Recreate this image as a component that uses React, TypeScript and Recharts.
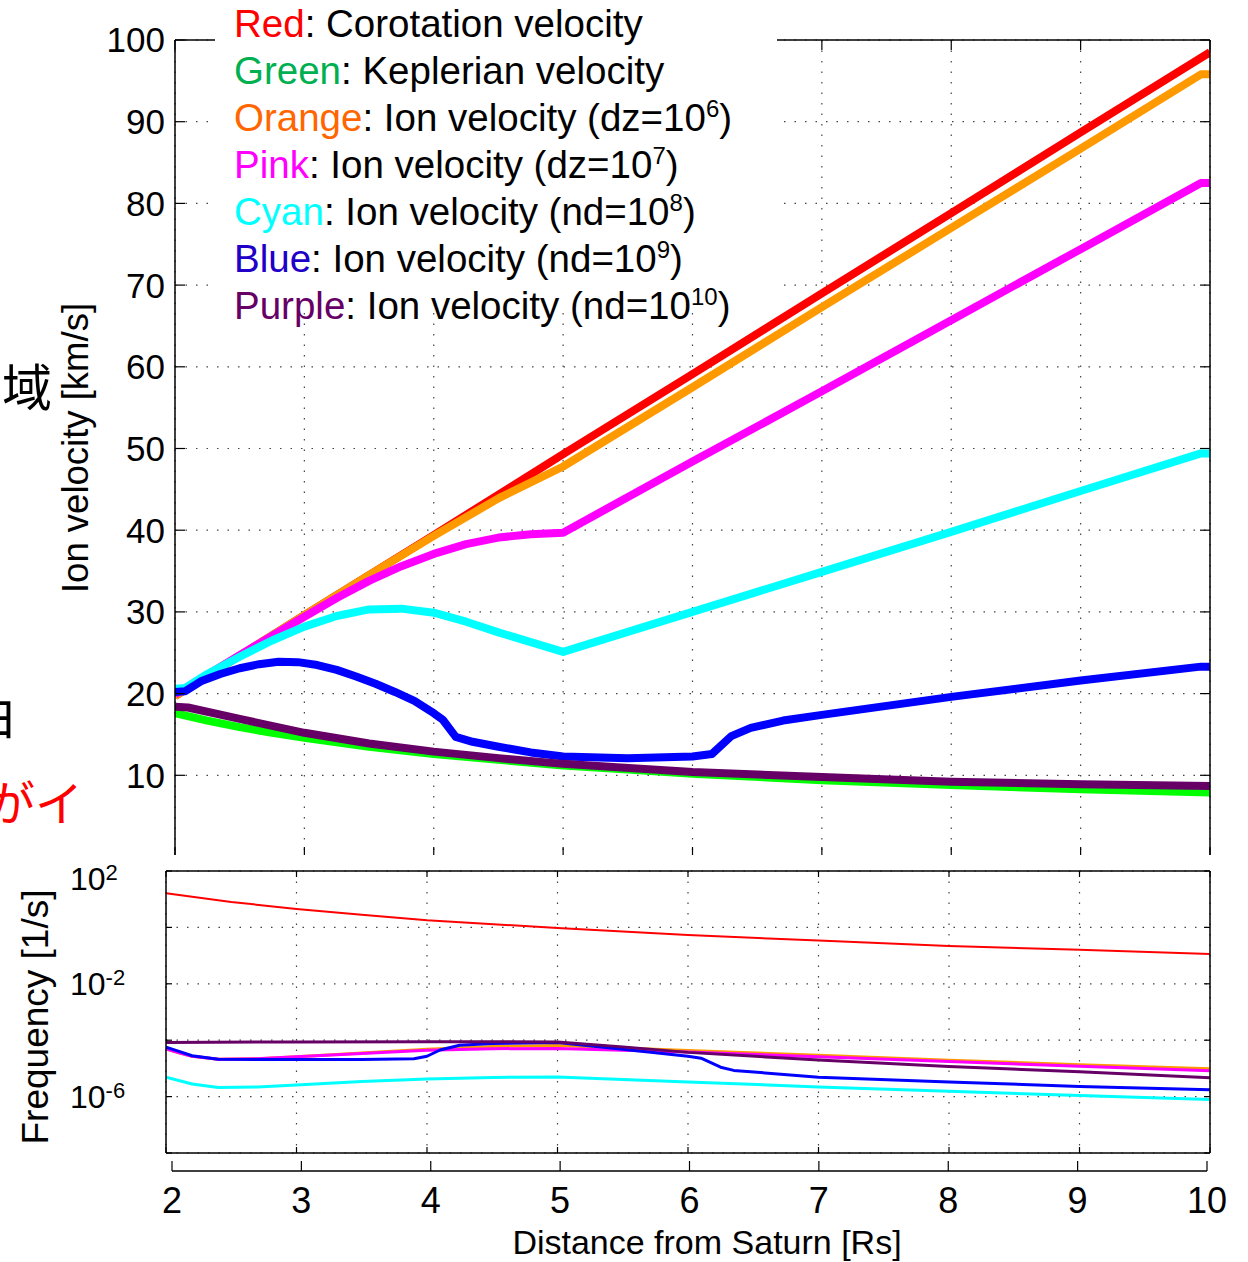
import React from 'react';
import { LineChart, Line, XAxis, YAxis, CartesianGrid } from 'recharts';

const FONT = '"Liberation Sans", Arial, Helvetica, sans-serif';
const CJK = '"Noto Sans CJK JP", "Noto Sans CJK SC", sans-serif';

// ---- axes ----
const xTicks = [2, 3, 4, 5, 6, 7, 8, 9, 10];
const velocityTicks = [10, 20, 30, 40, 50, 60, 70, 80, 90, 100];
const freqTicks = [1e2, 1, 1e-2, 1e-4, 1e-6, 1e-8];
const freqLabelTicks = [1e2, 1e-2, 1e-6];

// ---- top panel: velocities [km/s] vs distance [Rs] ----
const corotationVel = [[2, 19.7], [3, 29.6], [4, 39.4], [5, 49.3], [6, 59.1], [7, 69.0], [8, 78.8], [9, 88.7], [10, 98.5]];
const keplerianVel = [[2, 17.6], [2.25, 16.7], [2.5, 15.9], [2.75, 15.2], [3, 14.6], [3.5, 13.5], [4, 12.6], [4.5, 11.9], [5, 11.2], [5.5, 10.7], [6, 10.2], [7, 9.4], [8, 8.8], [9, 8.3], [10, 7.9]];
const ionVelDz6 = [[2, 19.7], [3, 29.6], [3.5, 34.5], [4, 39.3], [4.5, 43.9], [5, 47.8], [6, 57.5], [7, 67.3], [8, 77.0], [9, 86.7], [9.93, 95.8], [10, 95.8]];
const ionVelDz7 = [[2, 19.9], [2.5, 24.7], [3, 29.4], [3.25, 31.7], [3.5, 33.8], [3.75, 35.6], [4, 37.1], [4.25, 38.3], [4.5, 39.1], [4.75, 39.5], [5, 39.7], [6, 48.4], [7, 57.0], [8, 65.7], [9, 74.4], [9.93, 82.5], [10, 82.5]];
const ionVelNd8 = [[2, 20.6], [2.08, 20.7], [2.25, 22.4], [2.5, 24.5], [2.75, 26.5], [3, 28.2], [3.25, 29.5], [3.5, 30.3], [3.75, 30.4], [4, 29.9], [4.25, 28.8], [4.5, 27.5], [4.75, 26.3], [5, 25.1], [6, 30.0], [7, 34.9], [8, 39.8], [9, 44.8], [9.93, 49.4], [10, 49.4]];
const ionVelNd9 = [[2, 20.2], [2.08, 20.3], [2.2, 21.5], [2.35, 22.4], [2.5, 23.1], [2.65, 23.6], [2.8, 23.9], [2.95, 23.85], [3.1, 23.5], [3.25, 22.9], [3.4, 22.1], [3.55, 21.2], [3.7, 20.2], [3.85, 19.1], [4, 17.6], [4.07, 16.8], [4.17, 14.7], [4.3, 14.1], [4.5, 13.5], [4.75, 12.8], [5, 12.3], [5.5, 12.1], [6, 12.3], [6.15, 12.6], [6.3, 14.8], [6.45, 15.8], [6.7, 16.7], [7, 17.4], [8, 19.6], [9, 21.6], [9.93, 23.3], [10, 23.3]];
const ionVelNd10 = [[2, 18.4], [2.1, 18.3], [2.5, 16.9], [3, 15.2], [3.5, 13.9], [4, 12.9], [4.5, 12.1], [5, 11.4], [6, 10.4], [7, 9.8], [8, 9.2], [9, 8.9], [10, 8.7]];

// ---- bottom panel: frequencies [1/s] vs distance [Rs] ----
const corotationFreq = [[2, 16.3], [2.5, 8.0], [3, 4.5], [3.5, 2.8], [4, 1.8], [5, 0.95], [6, 0.54], [7, 0.34], [8, 0.22], [9, 0.16], [10, 0.115]];
const freqDz6 = [[2, 4.9e-5], [2.1, 3.6e-5], [2.2, 2.7e-5], [2.4, 2.1e-5], [2.7, 2.2e-5], [3, 2.6e-5], [3.5, 3.5e-5], [4, 4.8e-5], [4.5, 6.0e-5], [5, 6.5e-5], [6, 4.3e-5], [7, 2.9e-5], [8, 1.95e-5], [9, 1.35e-5], [10, 9.8e-6]];
const freqDz7 = [[2, 4.9e-5], [2.1, 3.6e-5], [2.2, 2.7e-5], [2.4, 2.1e-5], [2.7, 2.2e-5], [3, 2.6e-5], [3.5, 3.4e-5], [4, 4.4e-5], [4.5, 5.0e-5], [5, 5.1e-5], [6, 3.8e-5], [7, 2.6e-5], [8, 1.75e-5], [9, 1.2e-5], [10, 8.3e-6]];
const freqNd8 = [[2, 4.9e-6], [2.2, 2.8e-6], [2.4, 2.1e-6], [2.7, 2.2e-6], [3, 2.6e-6], [3.5, 3.4e-6], [4, 4.2e-6], [4.5, 4.8e-6], [5, 5.0e-6], [6, 3.3e-6], [7, 2.2e-6], [8, 1.55e-6], [9, 1.1e-6], [10, 7.9e-7]];
const freqNd9 = [[2, 5.6e-5], [2.1, 4.0e-5], [2.2, 2.8e-5], [2.4, 2.1e-5], [3, 2.05e-5], [3.5, 2.05e-5], [3.9, 2.2e-5], [4.0, 2.7e-5], [4.1, 4.5e-5], [4.25, 6.6e-5], [4.5, 7.6e-5], [5, 8.3e-5], [5.5, 4.8e-5], [6, 2.7e-5], [6.1, 2.3e-5], [6.25, 1.1e-5], [6.35, 8.5e-6], [7, 4.9e-6], [8, 3.3e-6], [9, 2.3e-6], [10, 1.74e-6]];
const freqNd10 = [[2, 8.3e-5], [3, 8.7e-5], [4, 8.9e-5], [5, 8.7e-5], [5.5, 5.8e-5], [6, 3.7e-5], [7, 2.0e-5], [8, 1.17e-5], [9, 7.6e-6], [10, 4.7e-6]];

// ---- legend ----
const legendEntries = [
  { name: 'Red', color: '#ff0000', text: ': Corotation velocity', exp: '', tail: '' },
  { name: 'Green', color: '#00b050', text: ': Keplerian velocity', exp: '', tail: '' },
  { name: 'Orange', color: '#ff6600', text: ': Ion velocity (dz=10', exp: '6', tail: ')' },
  { name: 'Pink', color: '#ff00ff', text: ': Ion velocity (dz=10', exp: '7', tail: ')' },
  { name: 'Cyan', color: '#00ffff', text: ': Ion velocity (nd=10', exp: '8', tail: ')' },
  { name: 'Blue', color: '#2000c8', text: ': Ion velocity (nd=10', exp: '9', tail: ')' },
  { name: 'Purple', color: '#660066', text: ': Ion velocity (nd=10', exp: '10', tail: ')' },
];

const toPts = (arr: number[][]) => arr.map(([x, v]) => ({ x, v }));

const topSeries = [
  { data: corotationVel, color: '#ff0000' },
  { data: keplerianVel, color: '#00ff00' },
  { data: ionVelDz6, color: '#ff9900' },
  { data: ionVelDz7, color: '#ff00ff' },
  { data: ionVelNd8, color: '#00ffff' },
  { data: ionVelNd9, color: '#0000ff' },
  { data: ionVelNd10, color: '#660066' },
];

const bottomSeries = [
  { data: corotationFreq, color: '#ff0000', w: 2 },
  { data: freqDz6, color: '#ff9900', w: 3 },
  { data: freqDz7, color: '#ff00ff', w: 3 },
  { data: freqNd8, color: '#00ffff', w: 3 },
  { data: freqNd9, color: '#0000ff', w: 3 },
  { data: freqNd10, color: '#660066', w: 3 },
];

const GRID = { stroke: '#444', strokeDasharray: '1.5 9', strokeWidth: 1.2 };
const AXIS_LINE = { stroke: '#000', strokeWidth: 1.5 };
const TICK_LINE = { stroke: '#000', strokeWidth: 1.2 };

const EmptyTick = () => <g />;

const FreqTick = (props: any) => {
  const { x, y, payload } = props;
  const v = payload.value;
  if (!freqLabelTicks.includes(v)) return <g />;
  const exp = Math.round(Math.log10(v));
  const shift = v === 1e2 ? 7 : 0;
  return (
    <text x={x} y={y + shift} dy="0.36em" textAnchor="start" fontSize={32} fontFamily={FONT} fill="#000">
      10
      <tspan dy={-10} fontSize={22}>{String(exp)}</tspan>
    </text>
  );
};

export default function App() {
  return (
    <div style={{ position: 'absolute', left: 0, top: 0, width: 1248, height: 1262, background: '#fff', overflow: 'hidden', fontFamily: FONT }}>
      {/* top panel */}
      <div style={{ position: 'absolute', left: 0, top: 0, zIndex: 1 }}>
        <LineChart width={1248} height={900} margin={{ top: 30, left: 115, right: 28, bottom: 33 }}>
          <CartesianGrid {...GRID} />
          <XAxis dataKey="x" type="number" domain={[2, 10]} ticks={xTicks} allowDataOverflow interval={0}
            orientation="bottom" height={10} tick={EmptyTick} tickSize={-10} axisLine={AXIS_LINE} tickLine={TICK_LINE} />
          <XAxis xAxisId="top" dataKey="x" type="number" domain={[2, 10]} ticks={xTicks} allowDataOverflow interval={0}
            orientation="top" height={10} tick={EmptyTick} tickSize={-10} axisLine={AXIS_LINE} tickLine={TICK_LINE} />
          <YAxis type="number" domain={[0, 100]} ticks={velocityTicks} allowDataOverflow interval={0} width={60}
            tickSize={-10} tickMargin={20} axisLine={AXIS_LINE} tickLine={TICK_LINE}
            tick={{ fontSize: 35, fill: '#000', fontFamily: FONT }} />
          <YAxis yAxisId="right" orientation="right" type="number" domain={[0, 100]} ticks={velocityTicks} allowDataOverflow interval={0} width={10}
            tickSize={-10} tick={EmptyTick} axisLine={AXIS_LINE} tickLine={TICK_LINE} />
          {topSeries.map((s, i) => (
            <Line key={i} data={toPts(s.data)} dataKey="v" type="linear" stroke={s.color} strokeWidth={8}
              strokeLinejoin="round" dot={false} activeDot={false} isAnimationActive={false} />
          ))}
        </LineChart>
      </div>

      {/* legend box */}
      <div style={{ position: 'absolute', left: 215, top: 0, width: 562, height: 305, background: '#fff', zIndex: 2 }} />
      <div style={{ position: 'absolute', left: 234, top: 0, zIndex: 3, fontSize: 38.5, lineHeight: '47px', color: '#000', whiteSpace: 'nowrap', fontFamily: FONT }}>
        {legendEntries.map((e) => (
          <div key={e.name}>
            <span style={{ color: e.color }}>{e.name}</span>
            {e.text}
            {e.exp ? <sup style={{ fontSize: 24, lineHeight: 0, verticalAlign: 'super' }}>{e.exp}</sup> : null}
            {e.tail}
          </div>
        ))}
      </div>

      {/* bottom panel */}
      <div style={{ position: 'absolute', left: 0, top: 855, width: 1248, height: 305, background: '#fff', zIndex: 4 }}>
        <LineChart width={1248} height={305} margin={{ top: 11, left: 106, right: 28, bottom: 2 }}>
          <CartesianGrid {...GRID} />
          <XAxis dataKey="x" type="number" domain={[2, 10]} ticks={xTicks} allowDataOverflow interval={0}
            orientation="bottom" height={5} tick={EmptyTick} tickSize={-6} axisLine={AXIS_LINE} tickLine={TICK_LINE} />
          <XAxis xAxisId="top" dataKey="x" type="number" domain={[2, 10]} ticks={xTicks} allowDataOverflow interval={0}
            orientation="top" height={5} tick={EmptyTick} tickSize={-6} axisLine={AXIS_LINE} tickLine={TICK_LINE} />
          <YAxis type="number" scale="log" domain={[1e-8, 1e2]} ticks={freqTicks} allowDataOverflow interval={0} width={60}
            tickSize={-6} tickMargin={102} axisLine={AXIS_LINE} tickLine={TICK_LINE} tick={<FreqTick />} />
          <YAxis yAxisId="right" orientation="right" type="number" scale="log" domain={[1e-8, 1e2]} ticks={freqTicks} allowDataOverflow interval={0} width={10}
            tickSize={-6} tick={EmptyTick} axisLine={AXIS_LINE} tickLine={TICK_LINE} />
          {bottomSeries.map((s, i) => (
            <Line key={i} data={toPts(s.data)} dataKey="v" type="linear" stroke={s.color} strokeWidth={s.w}
              strokeLinejoin="round" dot={false} activeDot={false} isAnimationActive={false} />
          ))}
        </LineChart>
      </div>

      {/* shared distance axis */}
      <div style={{ position: 'absolute', left: 0, top: 1150, zIndex: 5 }}>
        <LineChart width={1248} height={112} margin={{ top: 10, left: 172, right: 41, bottom: 31 }}>
          <XAxis dataKey="x" type="number" domain={[2, 10]} ticks={xTicks} allowDataOverflow interval={0}
            orientation="bottom" height={60} tickSize={-10} tickMargin={26} axisLine={AXIS_LINE} tickLine={TICK_LINE}
            tick={{ fontSize: 36, fill: '#000', fontFamily: FONT }} />
          <YAxis hide type="number" domain={[0, 1]} width={0} />
        </LineChart>
      </div>

      {/* titles and slide fragments */}
      <svg width={1248} height={1262} style={{ position: 'absolute', left: 0, top: 0, zIndex: 6, pointerEvents: 'none' }}>
        <text transform="translate(75,448) rotate(-90)" textAnchor="middle" dominantBaseline="central" fontSize={36.5} fontFamily={FONT} fill="#000">Ion velocity [km/s]</text>
        <text transform="translate(35,1017) rotate(-90)" textAnchor="middle" dominantBaseline="central" fontSize={37} fontFamily={FONT} fill="#000">Frequency [1/s]</text>
        <text x={707} y={1242} textAnchor="middle" dominantBaseline="central" fontSize={34} fontFamily={FONT} fill="#000">Distance from Saturn [Rs]</text>
        <text x={27} y={384} textAnchor="middle" dominantBaseline="central" fontSize={50} fontFamily={CJK} fill="#000">域</text>
        <text x={16} y={712} textAnchor="end" dominantBaseline="central" fontSize={50} fontFamily={CJK} fill="#000">由</text>
        <text x={83} y={800} textAnchor="end" dominantBaseline="central" fontSize={48} fontFamily={CJK} fill="#ff0000">がイ</text>
      </svg>
    </div>
  );
}
